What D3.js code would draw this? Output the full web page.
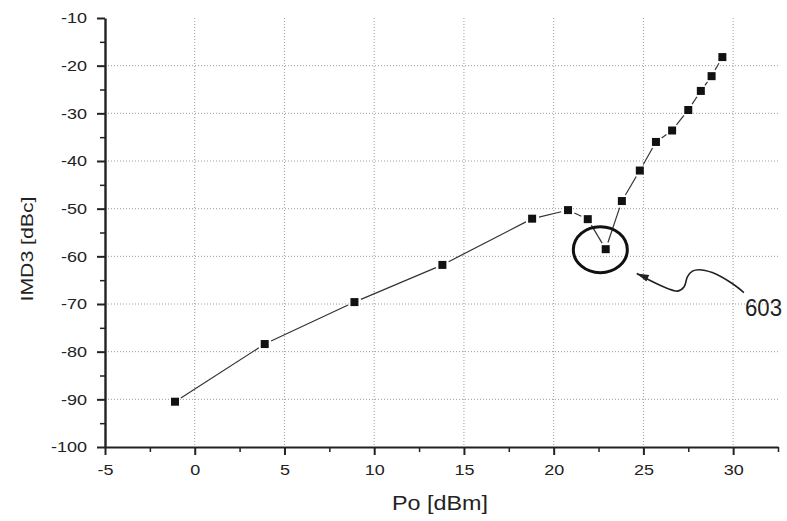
<!DOCTYPE html>
<html>
<head>
<meta charset="utf-8">
<script src="https://cdn.jsdelivr.net/npm/d3@7"></script>
<style>
  body { margin: 0; background: #fff; }
  svg { display: block; font-family: "Liberation Sans", Arial, sans-serif; }
</style>
</head>
<body>
<div id="grafica"></div>
<script>
  // datos
  const po = [-1.1, 3.9, 8.9, 13.8, 18.8, 20.8, 21.9, 22.9, 23.8, 24.8, 25.7, 26.6, 27.5, 28.2, 28.8, 29.4];
  const imd3 = [-90.5, -78.4, -69.6, -61.8, -52.1, -50.3, -52.2, -58.5, -48.4, -42.0, -36.0, -33.6, -29.3, -25.3, -22.2, -18.2];
  const xTicks = [-5, 0, 5, 10, 15, 20, 25, 30];
  const yTicks = [-100, -90, -80, -70, -60, -50, -40, -30, -20, -10];
  const xMinor = [-2.5, 2.5, 7.5, 12.5, 17.5, 22.5, 27.5, 32.5];
  const yMinor = [-95, -85, -75, -65, -55, -45, -35, -25, -15];
  const xGrid = [0, 5, 10, 15, 20, 25, 30];
  const yGrid = [-90, -80, -70, -60, -50, -40, -30, -20];

  // anotacion 603 (en unidades de la grafica)
  const circulo = { x: 22.6, y: -58.6 };
  const flecha = [
    [24.63, -63.6], [26.9, -67.3], [27.27, -66.4], [27.45, -64.3],
    [27.73, -63.1], [28.1, -62.8], [28.84, -63.4], [29.95, -65.7], [30.6, -67.6]
  ];
  const etiqueta = { x: 30.66, y: -72.6, texto: "603" };

  const width = 787, height = 521;
  const margen = { izq: 105, der: 778, sup: 18, inf: 447 };

  const x = d3.scaleLinear().domain([-5, 32.5]).range([margen.izq, margen.der]);
  const y = d3.scaleLinear().domain([-100, -10]).range([margen.inf, margen.sup]);

  // guion normal en vez del signo menos de d3
  const fmt = d => String(d);

  const svg = d3.select("#grafica")
    .append("svg")
    .attr("width", width)
    .attr("height", height);

  // Rejilla
  const grid = svg.append("g")
    .attr("stroke", "#9c9c9c")
    .attr("stroke-width", 1)
    .attr("stroke-dasharray", "1,2");

  grid.selectAll(".gx").data(xGrid).enter()
    .append("line")
    .attr("x1", d => x(d)).attr("x2", d => x(d))
    .attr("y1", margen.sup).attr("y2", margen.inf);

  grid.selectAll(".gy").data(yGrid).enter()
    .append("line")
    .attr("x1", margen.izq).attr("x2", margen.der)
    .attr("y1", d => y(d)).attr("y2", d => y(d));

  // Ejes menores
  svg.append("g")
    .attr("transform", `translate(0,${margen.inf})`)
    .call(d3.axisBottom(x).tickValues(xMinor).tickSize(5).tickFormat(""))
    .call(g => g.select(".domain").remove())
    .call(g => g.selectAll("line").attr("stroke", "#222").attr("stroke-width", 1.5));

  svg.append("g")
    .attr("transform", `translate(${margen.izq},0)`)
    .call(d3.axisLeft(y).tickValues(yMinor).tickSize(5).tickFormat(""))
    .call(g => g.select(".domain").remove())
    .call(g => g.selectAll("line").attr("stroke", "#222").attr("stroke-width", 1.5));

  // Eje X
  const ejeX = svg.append("g")
    .attr("transform", `translate(0,${margen.inf})`)
    .call(d3.axisBottom(x).tickValues(xTicks).tickFormat(fmt).tickSize(8).tickSizeOuter(0));
  ejeX.select(".domain").attr("stroke", "#222").attr("stroke-width", 2);
  ejeX.selectAll("line").attr("stroke", "#222").attr("stroke-width", 2);
  ejeX.selectAll("text")
    .attr("y", 28).attr("dy", 0)
    .attr("transform", "scale(1.2,1)")
    .attr("font-size", 15)
    .attr("font-family", "Liberation Sans, Arial, sans-serif")
    .attr("fill", "#222");

  // Eje Y
  const ejeY = svg.append("g")
    .attr("transform", `translate(${margen.izq},0)`)
    .call(d3.axisLeft(y).tickValues(yTicks).tickFormat(fmt).tickSize(8).tickSizeOuter(0));
  ejeY.select(".domain").attr("stroke", "#222").attr("stroke-width", 2.4);
  ejeY.selectAll("line").attr("stroke", "#222").attr("stroke-width", 2);
  ejeY.selectAll("text")
    .attr("x", -15)
    .attr("transform", "scale(1.2,1)")
    .attr("font-size", 15)
    .attr("font-family", "Liberation Sans, Arial, sans-serif")
    .attr("fill", "#222");

  // Titulos
  svg.append("text")
    .attr("x", 440).attr("y", 510)
    .attr("text-anchor", "middle")
    .attr("font-size", 21)
    .attr("textLength", 96)
    .attr("lengthAdjust", "spacingAndGlyphs")
    .attr("fill", "#222")
    .text("Po [dBm]");

  svg.append("text")
    .attr("transform", "translate(33,249) rotate(-90)")
    .attr("text-anchor", "middle")
    .attr("font-size", 16)
    .attr("textLength", 105)
    .attr("lengthAdjust", "spacingAndGlyphs")
    .attr("fill", "#222")
    .text("IMD3 [dBc]");

  // Linea con huecos junto a los puntos
  const puntos = po.map((d, i) => ({ x: x(d), y: y(imd3[i]) }));
  const hueco = 7;
  const tramos = d3.pairs(puntos).map(([a, b]) => {
    const dx = b.x - a.x, dy = b.y - a.y;
    const len = Math.hypot(dx, dy);
    const ux = dx / len, uy = dy / len;
    return { x1: a.x + ux * hueco, y1: a.y + uy * hueco, x2: b.x - ux * hueco, y2: b.y - uy * hueco, ok: len > 2 * hueco };
  });

  svg.append("g")
    .selectAll("line")
    .data(tramos.filter(d => d.ok))
    .enter()
    .append("line")
    .attr("x1", d => d.x1).attr("y1", d => d.y1)
    .attr("x2", d => d.x2).attr("y2", d => d.y2)
    .attr("stroke", "#333")
    .attr("stroke-width", 1.2);

  // Marcadores
  svg.append("g")
    .selectAll("rect")
    .data(puntos)
    .enter()
    .append("rect")
    .attr("x", d => d.x - 4)
    .attr("y", d => d.y - 4)
    .attr("width", 8)
    .attr("height", 8)
    .attr("fill", "#111");

  // Circulo de la anotacion
  svg.append("ellipse")
    .attr("cx", x(circulo.x))
    .attr("cy", y(circulo.y))
    .attr("rx", 27)
    .attr("ry", 23)
    .attr("fill", "none")
    .attr("stroke", "#111")
    .attr("stroke-width", 3);

  // Flecha ondulada
  const fpx = flecha.map(d => [x(d[0]), y(d[1])]);
  svg.append("path")
    .attr("d", d3.line().curve(d3.curveCatmullRom)(fpx))
    .attr("fill", "none")
    .attr("stroke", "#222")
    .attr("stroke-width", 1.6);

  const ang = Math.atan2(fpx[0][1] - fpx[1][1], fpx[0][0] - fpx[1][0]);
  const punta = fpx[0], largo = 12, ancho = 3.5;
  const base = [punta[0] - Math.cos(ang) * largo, punta[1] - Math.sin(ang) * largo];
  const tri = [
    punta,
    [base[0] + Math.sin(ang) * ancho, base[1] - Math.cos(ang) * ancho],
    [base[0] - Math.sin(ang) * ancho, base[1] + Math.cos(ang) * ancho]
  ];
  svg.append("path")
    .attr("d", "M" + tri.join("L") + "Z")
    .attr("fill", "#222");

  svg.append("text")
    .attr("x", x(etiqueta.x))
    .attr("y", y(etiqueta.y))
    .attr("font-size", 24)
    .attr("textLength", 37)
    .attr("lengthAdjust", "spacingAndGlyphs")
    .attr("fill", "#222")
    .text(etiqueta.texto);
</script>
</body>
</html>
